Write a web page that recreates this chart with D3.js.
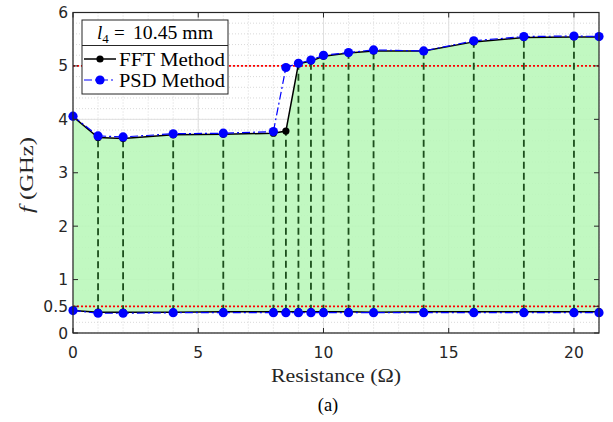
<!DOCTYPE html>
<html><head><meta charset="utf-8">
<script src="https://cdn.jsdelivr.net/npm/d3@7"></script>
<style>body{margin:0;background:#fff;}svg{display:block;}</style>
</head><body>
<svg id="c" width="613" height="422"></svg>
<script>
const resistance = [0, 1, 2, 4, 6, 8, 8.5, 9, 9.5, 10, 11, 12, 14, 16, 18, 20, 21];
const fftUpper = [4.05, 3.66, 3.64, 3.71, 3.72, 3.74, 3.78, 5.04, 5.09, 5.18, 5.24, 5.28, 5.28, 5.45, 5.53, 5.54, 5.54];
const psdUpper = [4.06, 3.69, 3.67, 3.73, 3.74, 3.77, 4.97, 5.05, 5.11, 5.20, 5.25, 5.30, 5.28, 5.47, 5.55, 5.56, 5.55];
const fftLower = [0.42, 0.39, 0.39, 0.39, 0.40, 0.40, 0.40, 0.40, 0.40, 0.40, 0.40, 0.39, 0.40, 0.40, 0.40, 0.40, 0.40];
const psdLower = [0.42, 0.37, 0.37, 0.38, 0.38, 0.38, 0.38, 0.38, 0.38, 0.38, 0.38, 0.38, 0.38, 0.38, 0.38, 0.38, 0.38];
const refLines = [5, 0.5];
const xTicks = [0, 5, 10, 15, 20];
const yTicks = [0, 0.5, 1, 2, 3, 4, 5, 6];
const xMinor = d3.range(0, 22, 1);
const yMinor = d3.range(0, 6.01, 0.2);
const legendTitle = "10.45 mm";
const seriesNames = ["FFT Method", "PSD Method"];

const svg = d3.select("#c");
const L = 73, R = 599, T = 12.5, B = 333;
const x = d3.scaleLinear().domain([0, 21]).range([L, R]);
const y = d3.scaleLinear().domain([0, 6]).range([B, T]);

svg.append("rect").attr("x", L).attr("y", T).attr("width", R - L).attr("height", B - T).attr("fill", "#fff");

// grid
const g = svg.append("g");
g.selectAll(".xm").data(xMinor).join("line")
  .attr("x1", d => x(d)).attr("x2", d => x(d)).attr("y1", T).attr("y2", B)
  .attr("stroke", "#c8c8c8").attr("stroke-width", 0.7).attr("stroke-dasharray", "1,2");
g.selectAll(".ym").data(yMinor).join("line")
  .attr("y1", d => y(d)).attr("y2", d => y(d)).attr("x1", L).attr("x2", R)
  .attr("stroke", "#c8c8c8").attr("stroke-width", 0.7).attr("stroke-dasharray", "1,2");
g.selectAll(".xM").data(xTicks).join("line")
  .attr("x1", d => x(d)).attr("x2", d => x(d)).attr("y1", T).attr("y2", B)
  .attr("stroke", "#e0e0e0").attr("stroke-width", 1);
g.selectAll(".yM").data(yTicks).join("line")
  .attr("y1", d => y(d)).attr("y2", d => y(d)).attr("x1", L).attr("x2", R)
  .attr("stroke", "#e0e0e0").attr("stroke-width", 1);

// fill between upper and lower FFT
const poly = resistance.map((r, i) => [x(r), y(fftUpper[i])])
  .concat(resistance.map((r, i) => [x(r), y(fftLower[i])]).reverse());
svg.append("path").attr("d", "M" + poly.join("L") + "Z")
  .attr("fill", "#b8f7b8").attr("fill-opacity", 0.88);

// reference lines
svg.selectAll(".ref").data(refLines).join("line")
  .attr("x1", L).attr("x2", R).attr("y1", d => y(d)).attr("y2", d => y(d))
  .attr("stroke", "#ff0000").attr("stroke-width", 1.8).attr("stroke-dasharray", "2,2");

// vertical dashed lines
svg.selectAll(".vd").data(resistance.slice(1, -1)).join("line")
  .attr("x1", d => x(d)).attr("x2", d => x(d))
  .attr("y1", (d, i) => y(fftLower[i + 1])).attr("y2", (d, i) => y(fftUpper[i + 1]))
  .attr("stroke", "#1c4f1c").attr("stroke-width", 1.8).attr("stroke-dasharray", "7,4");

const line = d3.line().x(d => x(d[0])).y(d => y(d[1]));
function drawSeries(vals, color, dash, w, r) {
  const pts = resistance.map((rr, i) => [rr, vals[i]]);
  svg.append("path").attr("d", line(pts)).attr("fill", "none")
    .attr("stroke", color).attr("stroke-width", w).attr("stroke-dasharray", dash);
  svg.append("g").selectAll("circle").data(pts).join("circle")
    .attr("cx", d => x(d[0])).attr("cy", d => y(d[1])).attr("r", r).attr("fill", color);
}
drawSeries(fftUpper, "#000", null, 1.5, 3.6);
drawSeries(fftLower, "#000", null, 1.5, 3.6);
drawSeries(psdUpper, "#0000ff", "8,3,2,3", 1.2, 4.6);
drawSeries(psdLower, "#0000ff", "8,3,2,3", 1.2, 4.6);

// axes box & ticks
svg.append("rect").attr("x", L).attr("y", T).attr("width", R - L).attr("height", B - T)
  .attr("fill", "none").attr("stroke", "#262626").attr("stroke-width", 1.2);
const tk = svg.append("g").attr("stroke", "#262626").attr("stroke-width", 1);
xTicks.forEach(d => {
  tk.append("line").attr("x1", x(d)).attr("x2", x(d)).attr("y1", B).attr("y2", B - 5);
  tk.append("line").attr("x1", x(d)).attr("x2", x(d)).attr("y1", T).attr("y2", T + 5);
});
yTicks.forEach(d => {
  tk.append("line").attr("y1", y(d)).attr("y2", y(d)).attr("x1", L).attr("x2", L + 5);
  tk.append("line").attr("y1", y(d)).attr("y2", y(d)).attr("x1", R).attr("x2", R - 5);
});

const tickFont = "'DejaVu Sans', sans-serif";
svg.selectAll(".xl").data(xTicks).join("text")
  .attr("x", d => x(d)).attr("y", 358).attr("text-anchor", "middle")
  .attr("font-family", tickFont).attr("font-size", 15.5).attr("fill", "#262626").text(d => d);
svg.selectAll(".yl").data(yTicks).join("text")
  .attr("x", 68).attr("y", d => y(d) + 5.5).attr("text-anchor", "end")
  .attr("font-family", tickFont).attr("font-size", 15.5).attr("fill", "#262626").text(d => d);

const serif = "'Liberation Serif', 'Times New Roman', serif";
svg.append("text").attr("x", 336).attr("y", 382).attr("text-anchor", "middle")
  .attr("font-family", serif).attr("font-size", 18.5).attr("fill", "#262626")
  .attr("textLength", 130).attr("lengthAdjust", "spacingAndGlyphs").text("Resistance (Ω)");
svg.append("text").attr("x", 328).attr("y", 411).attr("text-anchor", "middle")
  .attr("font-family", serif).attr("font-size", 18.5).attr("fill", "#000").text("(a)");
const yl = svg.append("text").attr("transform", "translate(33,175) rotate(-90)")
  .attr("text-anchor", "middle").attr("font-family", serif).attr("font-size", 19).attr("fill", "#262626")
  .attr("textLength", 76).attr("lengthAdjust", "spacingAndGlyphs");
yl.append("tspan").attr("font-style", "italic").text("f");
yl.append("tspan").text("  (GHz)");

// legend
const lg = svg.append("g");
lg.append("rect").attr("x", 82).attr("y", 20).attr("width", 146).attr("height", 74)
  .attr("fill", "#fff").attr("stroke", "#262626").attr("stroke-width", 1);
lg.append("line").attr("x1", 82).attr("x2", 228).attr("y1", 45.5).attr("y2", 45.5)
  .attr("stroke", "#262626").attr("stroke-width", 1);
const lt = lg.append("text").attr("x", 97).attr("y", 39)
  .attr("font-family", serif).attr("font-size", 19).attr("fill", "#000");
lt.append("tspan").attr("font-style", "italic").text("l");
lt.append("tspan").attr("font-size", 13).attr("dy", 4).text("4");
lt.append("tspan").attr("x", 114).attr("y", 39).text("=");
lt.append("tspan").attr("x", 133).attr("y", 39).attr("textLength", 80)
  .attr("lengthAdjust", "spacingAndGlyphs").text(legendTitle);
const entries = [
  {name: seriesNames[0], color: "#000", dash: null, w: 1.5, r: 3.6, yy: 59},
  {name: seriesNames[1], color: "#0000ff", dash: "8,3,2,3", w: 1.2, r: 4.6, yy: 80}
];
entries.forEach(e => {
  lg.append("line").attr("x1", 84).attr("x2", 116).attr("y1", e.yy).attr("y2", e.yy)
    .attr("stroke", e.color).attr("stroke-width", e.w).attr("stroke-dasharray", e.dash);
  lg.append("circle").attr("cx", 100).attr("cy", e.yy).attr("r", e.r).attr("fill", e.color);
  lg.append("text").attr("x", 119).attr("y", e.yy + 6.5).attr("font-family", serif)
    .attr("font-size", 18.5).attr("fill", "#000").attr("textLength", 106)
    .attr("lengthAdjust", "spacingAndGlyphs").text(e.name);
});
</script>
</body></html>
